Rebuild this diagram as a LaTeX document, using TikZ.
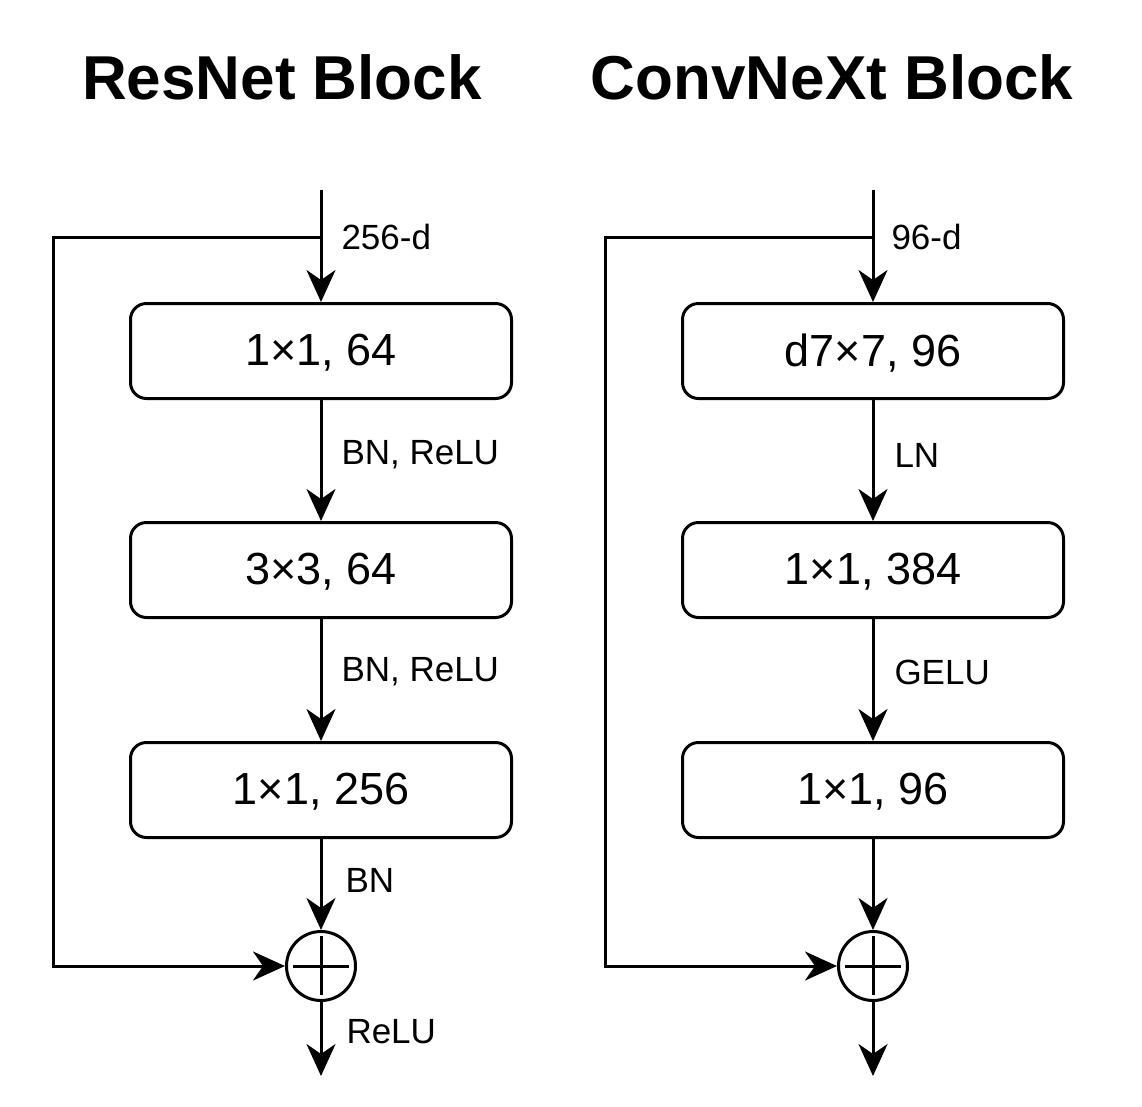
\documentclass[tikz,border=0pt]{standalone}
\usepackage{fontspec}
\setmainfont{Liberation Sans}
\usetikzlibrary{arrows.meta,positioning}

\begin{document}
\begin{tikzpicture}
[x=1pt,y=-1pt,line width=3pt,
>={Stealth[length=32pt,width=29pt,inset=10pt]},
layer/.style={rectangle,draw,rounded corners=16pt,minimum width=381pt,minimum height=95pt,text depth=2pt,font=\fontsize{45}{50}\selectfont},
lbl/.style={anchor=west,inner sep=0pt,font=\fontsize{35}{40}\selectfont},
title/.style={inner sep=0pt,font=\fontsize{62}{70}\selectfont\bfseries},
addop/.style={circle,draw,minimum size=69pt,inner sep=0pt,
  path picture={\draw ([yshift=30pt]path picture bounding box.center) -- ([yshift=-29pt]path picture bounding box.center)
                      ([xshift=-28pt]path picture bounding box.center) -- ([xshift=28pt]path picture bounding box.center);}}]
\useasboundingbox (0,0) rectangle (1142,1106);

\node[title] (rtitle) at (282,77) {ResNet Block};
\node[title] (ctitle) at (832,77) {ConvNeXt Block};

% ResNet block
\coordinate (rin)    at (321,190);
\coordinate (rsplit) at (321,237);
\coordinate (rback)  at (53,237);
\coordinate (rout)   at (321,1076);
\node[layer] (r1) at (321,351) {1×1, 64};
\node[layer] (r2) at (321,570) {3×3, 64};
\node[layer] (r3) at (321,790) {1×1, 256};
\node[addop] (radd) at (321,966) {};

\node[lbl] (rdim)  at (340,237)  {256-d};
\node[lbl] (ract1) at (340,455)  {BN, ReLU};
\node[lbl] (ract2) at (340,672)  {BN, ReLU};
\node[lbl] (rbn)   at (344,880)  {BN};
\node[lbl] (rrelu) at (345,1032) {ReLU};

\draw[->] (rin) -- (r1);
\draw[->] (r1) -- (r2);
\draw[->] (r2) -- (r3);
\draw[->] (r3) -- (radd);
\draw[->] (radd) -- (rout);
\draw[->] (rsplit) -- (rback) |- (radd);

% ConvNeXt block
\coordinate (cin)    at (873,190);
\coordinate (csplit) at (873,237);
\coordinate (cback)  at (605,237);
\coordinate (cout)   at (873,1076);
\node[layer] (c1) at (873,351) {d7×7, 96};
\node[layer] (c2) at (873,570) {1×1, 384};
\node[layer] (c3) at (873,790) {1×1, 96};
\node[addop] (cadd) at (873,966) {};

\node[lbl] (cdim)  at (890,237) {96-d};
\node[lbl] (cln)   at (893,455) {LN};
\node[lbl] (cgelu) at (893,672) {GELU};

\draw[->] (cin) -- (c1);
\draw[->] (c1) -- (c2);
\draw[->] (c2) -- (c3);
\draw[->] (c3) -- (cadd);
\draw[->] (cadd) -- (cout);
\draw[->] (csplit) -- (cback) |- (cadd);
\end{tikzpicture}
\end{document}
